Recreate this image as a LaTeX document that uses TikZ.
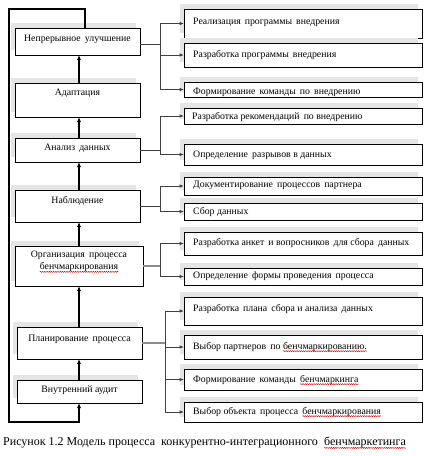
\documentclass[tikz,border=0pt]{standalone}
\usepackage{fontspec}
\setmainfont{Liberation Serif}
\usetikzlibrary{arrows.meta,calc,decorations.pathmorphing}
\newcommand\spellwave[1]{\tikz[baseline=(w.base),x=1cm,y=1cm]{\node[inner sep=0pt,outer sep=0pt,anchor=base] (w) {#1};
  \draw[red!85!black, line width=0.45pt, decorate, decoration={snake,amplitude=0.55pt,segment length=2.2pt}] ([yshift=-2pt]w.base west) -- ([yshift=-2pt]w.base east);}}
\tikzset{
  box/.style={draw=black, line width=0.8pt, fill=white, inner sep=0pt, outer sep=0pt},
  shadowfill/.style={fill=gray!20, draw=none},
  lbl/.style={font=\fontsize{9.8}{12}\selectfont, inner sep=0pt},
  rlbl/.style={lbl, anchor=west},
  bus/.style={draw=black!75, line width=0.8pt},
  busthick/.style={draw=black!45, line width=1.4pt},
  arr/.style={bus, -{Latex[length=4.5pt,width=3.6pt]}},
  uparr/.style={draw=black, line width=1.4pt, line join=miter, -{Latex[length=5pt,width=4.2pt]}},
  capt/.style={font=\fontsize{12}{14}\selectfont, inner sep=0pt, anchor=west}
}
\newcommand\mybox[5]{%
  \fill[shadowfill] ({#2-4},{#3-5}) rectangle ({#4-4},{#5-5});
  \node[box, minimum width={(#4-#2)*1pt}, minimum height={(#5-#3)*1pt}] (#1) at ({(#2+#4)/2},{(#3+#5)/2}) {};
}
\begin{document}
\begin{tikzpicture}[x=1pt,y=-1pt]
\useasboundingbox[fill=white] (0,0) rectangle (432,456);
% left column
\mybox{L1}{15}{28}{140}{55}
\mybox{L2}{15}{83}{140}{117}
\mybox{L3}{15}{138}{140}{162}
\mybox{L4}{15}{190}{140}{222}
\mybox{L5}{15}{246}{143}{286}
\mybox{L6}{17}{327}{142}{359}
\mybox{L7}{17}{380}{142}{403}
% right column
\mybox{R1}{184}{9}{422}{38}
\mybox{R2}{184}{43}{422}{67}
\mybox{R3}{184}{82}{422}{97}
\mybox{R4}{184}{108}{422}{124}
\mybox{R5}{184}{144}{422}{165}
\mybox{R6}{184}{177}{422}{195}
\mybox{R7}{184}{203}{422}{220}
\mybox{R8}{184}{232}{422}{255}
\mybox{R9}{184}{268}{422}{285}
\mybox{R10}{184}{297}{422}{325}
\mybox{R11}{184}{335}{422}{359}
\mybox{R12}{184}{369}{422}{390}
\mybox{R13}{184}{402}{422}{422}
% left texts
\node[lbl] (tL1) at (77.5,39) {Непрерывное\, улучшение};
\node[lbl] (tL2) at (77.5,93) {Адаптация};
\node[lbl] (tL3) at (77.5,148) {Анализ\, данных};
\node[lbl, align=center] (tL5) at (79,262) {Организация\, процесса\\\spellwave{бенчмаркирования}};
\node[lbl] (tL4) at (77.5,201) {Наблюдение};
\node[lbl] (tL6) at (79.5,339) {Планирование\, процесса};
\node[lbl] (tL7) at (79.5,390) {Внутренний аудит};
% right texts
\node[rlbl] (tR1) at (193,22) {Реализация\, программы\, внедрения};
\node[rlbl] (tR2) at (193,55) {Разработка программы\, внедрения};
\node[rlbl] (tR3) at (193,92) {Формирование\, команды\, по\, внедрению};
\node[rlbl] (tR4) at (192,117) {Разработка рекомендаций\, по внедрению};
\node[rlbl] (tR5) at (193,155) {Определение\, разрывов в данных};
\node[rlbl] (tR6) at (193,185) {Документирование\, процессов\, партнера};
\node[rlbl] (tR7) at (193,212) {Сбор данных};
\node[rlbl] (tR8) at (193,243) {Разработка анкет\, и вопросников\, для сбора\, данных};
\node[rlbl] (tR9) at (193,276) {Определение\, формы проведения\, процесса};
\node[rlbl] (tR10) at (193,309) {Разработка\, плана\, сбора и анализа\, данных};
\node[rlbl] (tR11) at (193,347) {Выбор партнеров\, по \spellwave{бенчмаркированию.}};
\node[rlbl] (tR12) at (193,380) {Формирование\, команды\, \spellwave{бенчмаркинга}};
\node[rlbl] (tR13) at (193,412) {Выбор объекта\, процесса\, \spellwave{бенчмаркирования}};
% connectors L1
\draw[bus] ([yshift=-2.5pt]L1.east) -- ++(20,0) coordinate (b1);
\foreach \r in {R1,R2,R3} \draw[arr] (b1) |- (\r.west);
% L3
\draw[bus] (L3.east) -- ++(20,0) coordinate (b3);
\foreach \r in {R4,R5} \draw[arr] (b3) |- (\r.west);
% L4
\draw[bus] (L4.east) -- ++(20,0) coordinate (b4);
\foreach \r in {R6,R7} \draw[arr] (b4) |- (\r.west);
% L5
\draw[busthick] (L5.east) -- ++(17,0) coordinate (b5);
\foreach \r in {R8,R9} \draw[arr] (b5) |- (\r.west);
% L6
\draw[busthick] (L6.east) -- ++(23,0) coordinate (b6);
\foreach \r in {R10,R11,R12,R13} \draw[arr] (b6) |- (\r.west);
% vertical arrows
\draw[uparr] (79,0 |- L2.north) -- (79,0 |- L1.south);
\draw[uparr] (79,0 |- L3.north) -- (79,0 |- L2.south);
\draw[uparr] (79,0 |- L4.north) -- (79,0 |- L3.south);
\draw[uparr] (79,0 |- L5.north) -- (79,0 |- L4.south);
\draw[uparr] (79,0 |- L6.north) -- (79,0 |- L5.south);
\draw[uparr] (79,0 |- L7.north) -- (79,0 |- L6.south);
% feedback loop
\coordinate (fbtop) at (85,9);
\coordinate (fbl1) at (9,9);
\coordinate (fbl2) at (9,422);
\coordinate (fbbot) at (79,422);
\draw[uparr] (fbtop |- L1.north) -- (fbtop) -- (fbl1) -- (fbl2) -- (fbbot) -- (fbbot |- L7.south);
% caption
\node[capt] (cap) at (3,443) {Рисунок 1.2 Модель процесса\ \ конкурентно-интеграционного\ \ \spellwave{бенчмаркетинга}};
\end{tikzpicture}
\end{document}
